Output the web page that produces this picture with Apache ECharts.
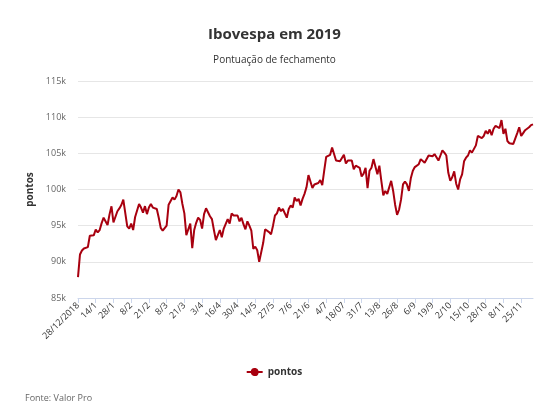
<!DOCTYPE html>
<html>
<head>
<meta charset="utf-8">
<script src="https://cdn.jsdelivr.net/npm/echarts@6/dist/echarts.min.js"></script>
<style>
html,body{margin:0;padding:0;background:#fff;}
#chart{width:549px;height:413px;}
</style>
</head>
<body>
<div id="chart"></div>
<script>
// Trading days (categories)
var categories = [
"28/12/2018",
"2/1","3/1","4/1","7/1","8/1","9/1","10/1","11/1","14/1","15/1","16/1","17/1","18/1","21/1","22/1","23/1","24/1","28/1","29/1","30/1","31/1",
"1/2","4/2","5/2","6/2","7/2","8/2","11/2","12/2","13/2","14/2","15/2","18/2","19/2","20/2","21/2","22/2","25/2","26/2","27/2","28/2",
"1/3","6/3","7/3","8/3","11/3","12/3","13/3","14/3","15/3","18/3","19/3","20/3","21/3","22/3","25/3","26/3","27/3","28/3","29/3",
"1/4","2/4","3/4","4/4","5/4","8/4","9/4","10/4","11/4","12/4","15/4","16/4","17/4","18/4","22/4","23/4","24/4","25/4","26/4","29/4","30/4",
"2/5","3/5","6/5","7/5","8/5","9/5","10/5","13/5","14/5","15/5","16/5","17/5","20/5","21/5","22/5","23/5","24/5","27/5","28/5","29/5","30/5","31/5",
"3/6","4/6","5/6","6/6","7/6","10/6","11/6","12/6","13/6","14/6","17/6","18/6","19/6","21/6","24/6","25/6","26/6","27/6","28/6",
"1/7","2/7","3/7","4/7","5/7","8/7","10/7","11/7","12/7","15/7","16/7","17/7","18/07","19/7","22/7","23/7","24/7","25/7","26/7","29/7","30/7","31/7",
"1/8","2/8","5/8","6/8","7/8","8/8","9/8","12/8","13/8","14/8","15/8","16/8","19/8","20/8","21/8","22/8","23/8","26/8","27/8","28/8","29/8","30/8",
"2/9","3/9","4/9","5/9","6/9","9/9","10/9","11/9","12/9","13/9","16/9","17/9","18/9","19/9","20/9","23/9","24/9","25/9","26/9","27/9","30/9",
"1/10","2/10","3/10","4/10","7/10","8/10","9/10","10/10","11/10","14/10","15/10","16/10","17/10","18/10","21/10","22/10","23/10","24/10","25/10","28/10","29/10","30/10","31/10",
"1/11","4/11","5/11","6/11","7/11","8/11","11/11","12/11","13/11","14/11","18/11","19/11","21/11","22/11","25/11","26/11","27/11","28/11","29/11",
"2/12","3/12"
];

// Closing points, in thousands
var pontos = [
87.89,
91.01,91.56,91.84,91.70,92.03,93.61,93.81,93.66,94.47,94.06,94.39,95.35,96.10,96.01,95.10,96.56,97.68,95.44,95.64,96.99,97.39,
97.86,98.59,98.50,94.90,94.60,95.30,94.40,96.20,96.00,98.00,97.50,96.80,97.70,96.60,97.50,98.00,97.50,97.70,97.30,96.10,
94.70,94.30,94.20,95.00,97.90,98.00,98.90,98.60,99.10,99.99,99.60,98.00,96.70,93.70,93.80,95.30,91.90,94.40,95.40,
96.10,95.80,94.60,96.60,97.40,97.50,96.30,95.90,94.40,93.00,93.10,94.40,93.40,94.60,94.70,95.90,95.30,96.70,96.40,96.60,96.40,
95.60,96.10,95.20,94.50,95.60,95.00,94.30,91.80,92.10,91.60,90.00,90.00,92.60,94.50,94.50,94.10,93.80,95.00,96.40,96.70,97.50,97.00,
97.30,97.40,96.10,97.30,97.80,97.50,98.90,98.40,98.70,97.80,98.70,99.40,100.30,102.00,102.10,100.20,100.70,100.80,100.90,
101.30,100.60,102.60,104.50,104.30,104.80,105.80,104.90,104.00,103.90,103.90,104.00,104.80,103.60,104.00,103.90,104.00,102.80,103.30,103.50,103.00,101.80,
102.20,103.00,100.20,102.60,103.00,104.20,104.00,102.10,103.30,101.20,99.20,99.80,99.40,99.30,101.20,99.80,97.90,96.50,97.20,98.60,100.70,101.10,
100.70,99.80,101.60,102.60,103.10,103.10,103.50,104.20,104.40,103.70,103.80,104.70,104.60,104.60,104.90,104.70,104.00,104.70,105.40,105.10,104.70,
102.30,101.20,101.70,102.50,100.80,100.00,101.40,102.10,103.90,104.40,104.70,105.40,105.10,104.90,106.10,107.40,107.50,107.10,107.40,108.10,107.70,108.30,107.50,
108.40,108.80,108.70,108.50,109.60,107.70,108.40,106.70,106.40,106.50,106.30,106.20,107.80,108.60,107.40,107.80,108.20,108.40,108.60,
108.90,109.00
];

var yTicks = { min: 85, max: 115, step: 5 };
var labelStep = 9;

var chart = echarts.init(document.getElementById('chart'), null, {renderer: 'canvas'});
var FONT = "'Open Sans', sans-serif";
var LINE_COLOR = '#a8000f';
chart.setOption({
  animation: false,
  backgroundColor: '#ffffff',
  textStyle: { fontFamily: FONT },
  title: [{
    text: 'Ibovespa em 2019',
    left: 'center',
    top: 22,
    textStyle: { fontFamily: FONT, fontSize: 15, fontWeight: 'bold', color: '#333333' }
  }, {
    text: 'Pontuação de fechamento',
    left: 'center',
    top: 50,
    textStyle: { fontFamily: FONT, fontSize: 10, fontWeight: 'normal', color: '#333333' }
  }],
  legend: {
    bottom: 31,
    left: 'center',
    itemWidth: 16,
    itemHeight: 8,
    itemGap: 6,
    textStyle: { fontFamily: FONT, fontSize: 10, fontWeight: 'bold', color: '#333333' },
    data: [{
      name: 'pontos',
      icon: 'path://M0,3.1L4.1,3.1A4,4 0 0 1 11.9,3.1L16,3.1L16,4.9L11.9,4.9A4,4 0 0 1 4.1,4.9L0,4.9Z'
    }]
  },
  graphic: [{
    type: 'text',
    left: 25,
    top: 394,
    style: { text: 'Fonte: Valor Pro', fill: '#666666', font: "9px 'Open Sans', sans-serif" }
  }],
  grid: { left: 78, right: 16, top: 81, bottom: 115, containLabel: false },
  xAxis: {
    type: 'category',
    data: categories,
    boundaryGap: false,
    axisLine: { lineStyle: { color: '#ccd6eb', width: 1 } },
    axisTick: { show: true, interval: labelStep - 1, length: 5, lineStyle: { color: '#ccd6eb' } },
    axisLabel: {
      interval: labelStep - 1,
      rotate: 45,
      margin: 6,
      fontSize: 9,
      fontFamily: FONT,
      color: '#333333'
    },
    splitLine: { show: false }
  },
  yAxis: {
    type: 'value',
    min: yTicks.min,
    max: yTicks.max,
    interval: yTicks.step,
    name: 'pontos',
    nameLocation: 'middle',
    nameGap: 41,
    nameTextStyle: { fontFamily: FONT, fontSize: 10, fontWeight: 'bold', color: '#333333' },
    axisLine: { show: false },
    axisTick: { show: false },
    axisLabel: {
      margin: 12,
      fontSize: 9,
      fontFamily: FONT,
      color: '#666666',
      formatter: function (v) { return v + 'k'; }
    },
    splitLine: { lineStyle: { color: '#e6e6e6', width: 1 } }
  },
  series: [{
    name: 'pontos',
    type: 'line',
    data: pontos,
    symbol: 'circle',
    symbolSize: 7,
    showSymbol: false,
    itemStyle: { color: LINE_COLOR },
    lineStyle: { color: LINE_COLOR, width: 2 }
  }]
});
</script>
</body>
</html>
